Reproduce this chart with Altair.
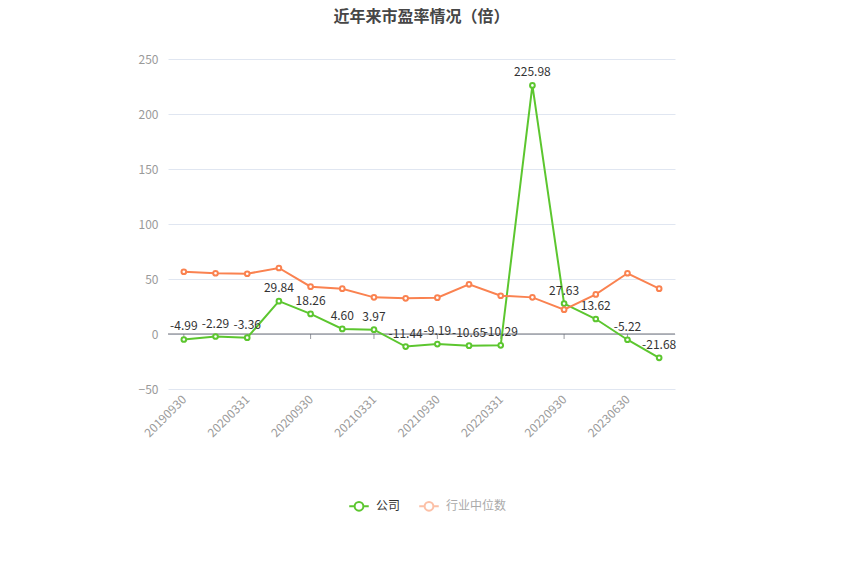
import altair as alt
import pandas as pd

dates = ["20190930", "20191231", "20200331", "20200630", "20200930", "20201231",
         "20210331", "20210630", "20210930", "20211231", "20220331", "20220630",
         "20220930", "20221231", "20230630", "20230930"]
company = [-4.99, -2.29, -3.36, 29.84, 18.26, 4.60, 3.97, -11.44, -9.19, -10.65,
           -10.29, 225.98, 27.63, 13.62, -5.22, -21.68]
industry = [56.6, 55.2, 54.8, 60.0, 43.0, 41.2, 33.3, 32.4, 33.0, 45.2, 34.8, 33.3,
            22.1, 36.0, 55.2, 41.2]
tick_dates = ["20190930", "20200331", "20200930", "20210331", "20210930",
              "20220331", "20220930", "20230630"]
series_names = ["公司", "行业中位数"]
colors = ["#5cc62f", "#fa8250"]

FONT = "Noto Sans CJK SC"

rows = []
for d, c, i in zip(dates, company, industry):
    rows.append({"date": d, "series": series_names[0], "value": c})
    rows.append({"date": d, "series": series_names[1], "value": i})
df = pd.DataFrame(rows)
df_company = pd.DataFrame({"date": dates, "value": company,
                           "label": [f"{v:.2f}" for v in company]})
df_ticks = pd.DataFrame({"date": tick_dates})

xscale = alt.Scale(type="point", domain=dates, padding=0.5)
yscale = alt.Scale(domain=[-50, 250])

x_enc = alt.X("date:N", scale=xscale, sort=dates,
              axis=alt.Axis(title=None, values=tick_dates, labelAngle=-45,
                            labelColor="#9a9a9a", labelFontSize=12, labelFont=FONT,
                            domain=False, ticks=False, labelPadding=8, grid=False))
y_enc = alt.Y("value:Q", scale=yscale,
              axis=alt.Axis(title=None, values=[-50, 0, 50, 100, 150, 200, 250],
                            labelColor="#9a9a9a", labelFontSize=12, labelFont=FONT,
                            domain=False, ticks=False, labelPadding=10,
                            grid=True, gridColor="#e0e6f1", gridWidth=1))

color_enc = alt.Color("series:N", scale=alt.Scale(domain=series_names, range=colors),
                      legend=alt.Legend(
                          title=None, orient="none", direction="horizontal",
                          legendX=180, legendY=436,
                          symbolType="M-1,0L-0.45,0M0.45,0L1,0M0.45,0A0.45,0.45,0,1,1,-0.45,0A0.45,0.45,0,1,1,0.45,0",
                          symbolSize=380, symbolStrokeWidth=2, symbolFillColor="white",
                          symbolOpacity=alt.ExprRef("datum.label == '公司' ? 1 : 0.5"),
                          labelColor=alt.ExprRef("datum.label == '公司' ? '#333333' : '#aaaaaa'"),
                          labelFont=FONT, labelFontSize=12, columnPadding=14,
                          labelOffset=6))

zero_line = alt.Chart(pd.DataFrame({"v": [0]})).mark_rule(
    color="#6e7079", strokeWidth=1).encode(y=alt.Y("v:Q", scale=yscale))

ticks = alt.Chart(df_ticks).mark_tick(
    color="#6e7079", thickness=1, size=5, yOffset=2.5, orient="vertical").encode(
    x=alt.X("date:N", scale=xscale, sort=dates),
    y=alt.datum(0, scale=yscale))

lines = alt.Chart(df).mark_line(strokeWidth=2).encode(
    x=x_enc, y=y_enc, color=color_enc,
    order=alt.Order("series:N", sort="descending"))

points = alt.Chart(df).mark_point(filled=True, fill="white", strokeWidth=2, size=22,
                                  opacity=1, shape="circle").encode(
    x=alt.X("date:N", scale=xscale, sort=dates),
    y=alt.Y("value:Q", scale=yscale),
    stroke=alt.Stroke("series:N", scale=alt.Scale(domain=series_names, range=colors),
                      legend=None))

labels = alt.Chart(df_company).mark_text(
    baseline="bottom", dy=-6, fontSize=12, font=FONT, color="#333333").encode(
    x=alt.X("date:N", scale=xscale, sort=dates),
    y=alt.Y("value:Q", scale=yscale),
    text="label:N")

chart = alt.layer(zero_line, ticks, lines, points, labels).properties(
    width=507, height=330,
    title=alt.Title("近年来市盈率情况（倍）", font=FONT, fontSize=16, fontWeight="bold",
                    color="#464646", anchor="middle", offset=28),
    autosize=alt.AutoSizeParams(type="none"),
    padding={"left": 160, "top": 51, "right": 167, "bottom": 179},
).configure_view(stroke=None)

chart.save("out.html", embed_options={"renderer": "svg", "actions": False})
